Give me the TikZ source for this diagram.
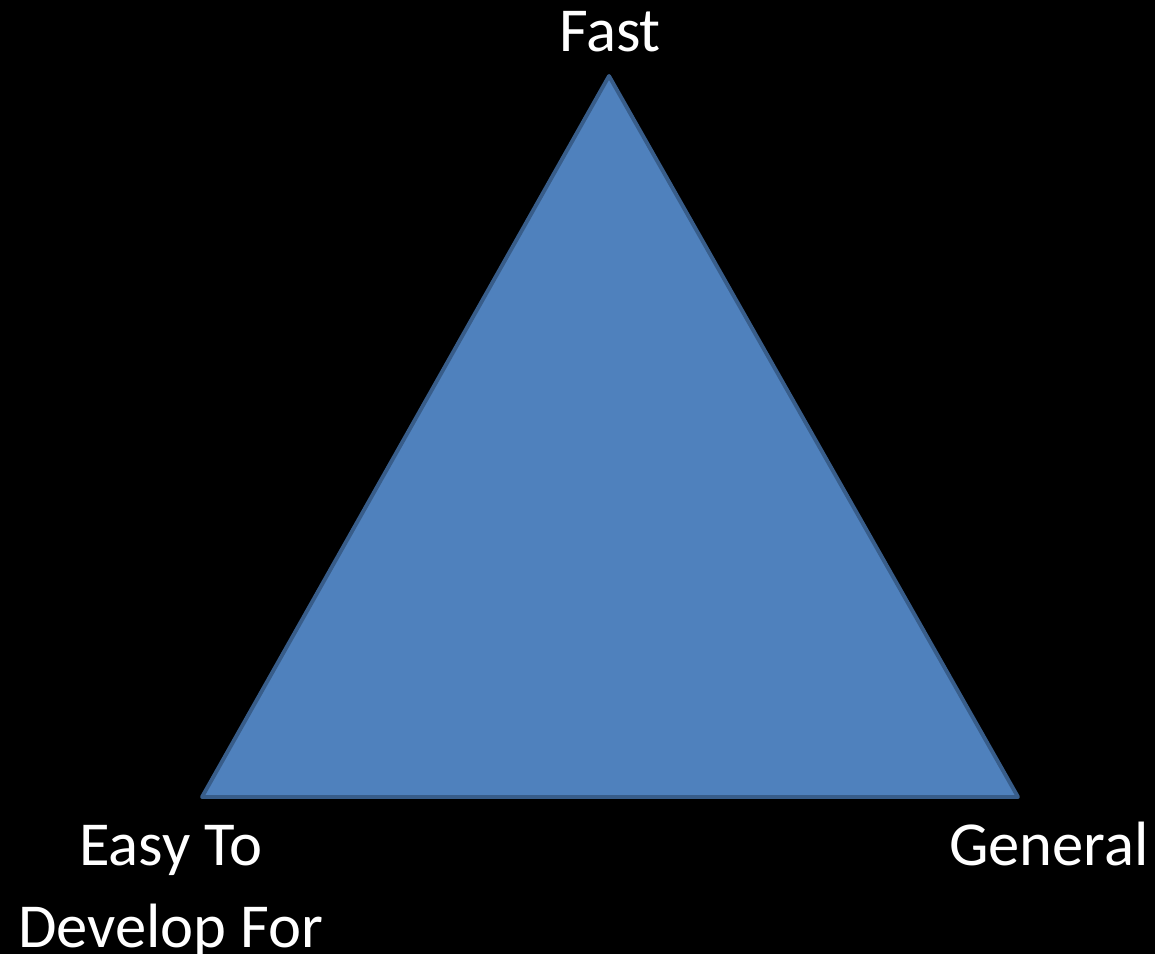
\documentclass[tikz,border=0pt]{standalone}
\usepackage{fontspec}
\setmainfont{Carlito}
\usetikzlibrary{positioning}
\definecolor{triblue}{HTML}{4F81BD}
\definecolor{triedge}{HTML}{385D8A}
\begin{document}
\begin{tikzpicture}[x=0.01cm,y=-0.01cm,
				cornerlabel/.style={text=white,inner sep=0pt,align=center,anchor=base,
					font=\fontsize{17.8}{23.3}\selectfont}]
\fill[black] (0,0) rectangle (1155,954);
\coordinate (top) at (609,76);
\coordinate (left) at (202,797);
\coordinate (right) at (1018,797);
\draw[fill=triblue,draw=triedge,line width=1.1pt,line join=round] (top) -- (left) -- (right) -- cycle;
\node[cornerlabel] (fast) at (610,52) {Fast};
\node[cornerlabel] (easy) at (171,947) {Easy To\\Develop For};
\node[cornerlabel] (general) at (1049,865) {General};
\end{tikzpicture}
\end{document}
